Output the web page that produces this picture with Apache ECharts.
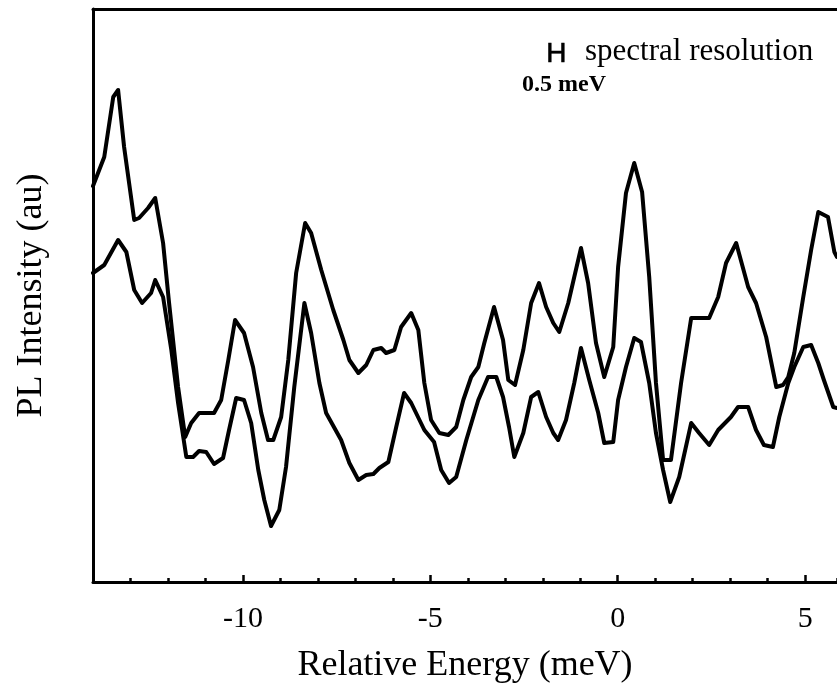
<!DOCTYPE html>
<html>
<head>
<meta charset="utf-8">
<script src="https://cdn.jsdelivr.net/npm/echarts@6/dist/echarts.min.js"></script>
<style>
html,body{margin:0;padding:0;background:#fff;}
#chart{width:837px;height:689px;}
</style>
</head>
<body>
<div id="chart"></div>
<script>
// Relative energy (meV) and PL intensity (au) for the two spectra
const upperX = [-14.0, -13.70, -13.46, -13.33, -13.17, -12.90, -12.77, -12.53, -12.34, -12.13,
  -11.97, -11.73, -11.54, -11.38, -11.17, -10.77, -10.58, -10.39, -10.21, -9.97,
  -9.73, -9.51, -9.33, -9.19, -8.98, -8.79, -8.58, -8.34, -8.18, -7.91,
  -7.59, -7.32, -7.16, -6.92, -6.71, -6.52, -6.31, -6.18, -5.96, -5.78,
  -5.51, -5.32, -5.16, -4.98, -4.76, -4.52, -4.31, -4.12, -3.91, -3.72,
  -3.56, -3.30, -3.06, -2.92, -2.74, -2.52, -2.31, -2.10, -1.91, -1.72,
  -1.56, -1.32, -1.16, -0.98, -0.79, -0.58, -0.36, -0.12, 0.01, 0.22,
  0.44, 0.65, 0.84, 1.02, 1.21, 1.42, 1.69, 1.96, 2.44, 2.68,
  2.89, 3.16, 3.48, 3.69, 3.96, 4.23, 4.41, 4.55, 4.71, 4.95,
  5.16, 5.35, 5.61, 5.78, 5.85];
const upperY = [396, 425, 485, 492, 435, 362, 364, 374, 384, 339,
  279, 195, 145, 159, 169, 169, 182, 222, 262, 249,
  215, 169, 142, 142, 165, 222, 309, 359, 349, 312,
  272, 242, 222, 209, 217, 232, 234, 229, 232, 255,
  269, 252, 199, 162, 149, 147, 155, 182, 205, 215,
  239, 275, 242, 202, 197, 232, 279, 299, 275, 259,
  250, 279, 305, 334, 299, 239, 205, 235, 315, 389,
  419, 390, 305, 199, 122, 122, 199, 264, 264, 285,
  319, 339, 295, 279, 245, 195, 197, 205, 229, 285,
  332, 370, 365, 330, 325];

const lowerX = [-14.0, -13.70, -13.33, -13.11, -12.90, -12.69, -12.45, -12.34, -12.13, -11.91,
  -11.73, -11.51, -11.33, -11.17, -10.98, -10.77, -10.53, -10.37, -10.18, -9.97,
  -9.78, -9.59, -9.43, -9.25, -9.03, -8.85, -8.63, -8.36, -8.18, -7.96,
  -7.78, -7.38, -7.16, -6.92, -6.71, -6.52, -6.36, -6.12, -5.91, -5.70,
  -5.51, -5.16, -4.90, -4.71, -4.50, -4.31, -4.04, -3.72, -3.46, -3.24,
  -3.06, -2.90, -2.76, -2.52, -2.31, -2.12, -1.91, -1.72, -1.59, -1.38,
  -1.16, -0.98, -0.76, -0.52, -0.36, -0.12, 0.01, 0.22, 0.44, 0.62,
  0.84, 1.02, 1.21, 1.40, 1.64, 1.96, 2.17, 2.44, 2.68, 3.02,
  3.21, 3.48, 3.69, 3.90, 4.14, 4.31, 4.55, 4.71, 4.95, 5.16,
  5.35, 5.50, 5.75, 5.85];
const lowerY = [309, 317, 342, 330, 292, 279, 289, 302, 285, 232,
  179, 125, 125, 131, 130, 118, 124, 152, 184, 182,
  159, 112, 82, 56, 72, 115, 195, 279, 249, 199,
  169, 142, 119, 102, 107, 108, 114, 120, 155, 189,
  179, 152, 140, 112, 99, 105, 142, 182, 205, 205,
  185, 155, 125, 149, 185, 190, 165, 149, 142, 162,
  199, 234, 202, 169, 139, 140, 182, 215, 244, 240,
  199, 149, 112, 80, 105, 159, 149, 137, 152, 165,
  175, 175, 152, 137, 135, 165, 199, 215, 235, 237,
  219, 202, 175, 174];

const majorTicks = [-10, -5, 0, 5];
const xTitle = 'Relative Energy (meV)';
const yTitle = 'PL Intensity (au)';
const noteSymbol = 'H';
const noteText = 'spectral resolution';
const noteValue = '0.5 meV';

const serif = '"Liberation Serif", "Times New Roman", serif';
const xMin = -14, xMax = 5.85;

const chart = echarts.init(document.getElementById('chart'), null, {renderer: 'canvas'});
const zip = (xs, ys) => xs.map((x, i) => [x, ys[i]]);

chart.setOption({
  animation: false,
  backgroundColor: '#fff',
  grid: {left: 93, right: 0, top: 9, bottom: 107, containLabel: false},
  xAxis: [
    {
      type: 'value', min: xMin, max: xMax, position: 'bottom',
      axisLine: {show: true, onZero: false, lineStyle: {color: '#000', width: 3}},
      axisTick: {show: true, inside: true, length: 7, customValues: majorTicks, lineStyle: {color: '#000', width: 2.5}},
      axisLabel: {show: true, customValues: majorTicks, margin: 22, color: '#000', fontFamily: serif, fontSize: 30},
      splitLine: {show: false},
      name: xTitle, nameLocation: 'middle', nameGap: 66,
      nameTextStyle: {color: '#000', fontFamily: serif, fontSize: 36}
    },
    {
      type: 'value', min: xMin, max: xMax, interval: 1, position: 'bottom',
      axisLine: {show: false, onZero: false},
      axisTick: {show: true, inside: true, length: 4, lineStyle: {color: '#000', width: 2.5}},
      axisLabel: {show: false},
      splitLine: {show: false}
    },
    {
      type: 'value', min: xMin, max: xMax, position: 'top',
      axisLine: {show: true, onZero: false, lineStyle: {color: '#000', width: 3}},
      axisTick: {show: false}, axisLabel: {show: false}, splitLine: {show: false}
    }
  ],
  yAxis: {
    type: 'value', min: 0, max: 573,
    axisLine: {show: true, onZero: false, lineStyle: {color: '#000', width: 3}},
    axisTick: {show: false}, axisLabel: {show: false}, splitLine: {show: false},
    name: yTitle, nameLocation: 'middle', nameGap: 43,
    nameTextStyle: {color: '#000', fontFamily: serif, fontSize: 36}
  },
  series: [
    {type: 'line', xAxisIndex: 0, data: zip(upperX, upperY), symbol: 'none', smooth: false,
     lineStyle: {color: '#000', width: 4, join: 'round', cap: 'round'}, clip: true},
    {type: 'line', xAxisIndex: 0, data: zip(lowerX, lowerY), symbol: 'none', smooth: false,
     lineStyle: {color: '#000', width: 4, join: 'round', cap: 'round'}, clip: true}
  ],
  graphic: [
    {type: 'text', left: 546, top: 40,
     style: {text: noteSymbol, fill: '#000', stroke: '#000', lineWidth: 0.6, font: '28px "Liberation Sans", Arial, sans-serif'}},
    {type: 'text', left: 585, top: 36,
     style: {text: noteText, fill: '#000', font: '31px ' + serif}},
    {type: 'text', left: 522, top: 73,
     style: {text: noteValue, fill: '#000', font: 'bold 24px ' + serif}}
  ]
});
</script>
</body>
</html>
